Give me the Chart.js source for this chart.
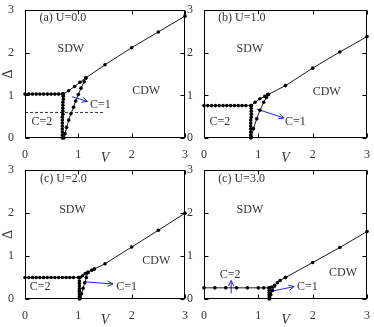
<!DOCTYPE html>
<html lang="en">
<head>
    <meta charset="UTF-8">
    <title>Phase diagrams</title>
    <style>
        body { margin: 0; background: #fff; }
        #wrap { position: relative; width: 374px; height: 327px; overflow: hidden; }
        #wrap canvas { position: absolute; }
    </style>
</head>
<body>
    <div id="wrap">
        <canvas id="pa" width="190" height="165" style="left:0;top:0"></canvas>
        <canvas id="pb" width="189" height="165" style="left:185px;top:0"></canvas>
        <canvas id="pc" width="190" height="167" style="left:0;top:160px"></canvas>
        <canvas id="pd" width="189" height="167" style="left:185px;top:160px"></canvas>
    </div>

    <script src="https://cdn.jsdelivr.net/npm/chart.js"></script>
    <script>
        // tick values for both axes
        const vTicks = [0, 1, 2, 3];
        const dTicks = [0, 1, 2, 3];

        // (a) U=0.0  -- points as [V, Delta]
        const aRow = [[0,1.03],[0.07,1.03],[0.14,1.03],[0.21,1.03],[0.28,1.03],[0.35,1.03],[0.42,1.03],[0.49,1.03],[0.56,1.03],[0.63,1.03],[0.7,1.03]];
        const aVert = [[0.7,0],[0.7,0.07],[0.7,0.14],[0.7,0.21],[0.7,0.28],[0.7,0.35],[0.7,0.42],[0.7,0.49],[0.71,0.56],[0.71,0.63],[0.71,0.7],[0.71,0.77],[0.71,0.84],[0.72,0.91],[0.72,0.98],[0.72,1.03]];
        const aUpper = [[0.72,1.03],[0.82,1.11],[0.93,1.21],[1.03,1.31],[1.14,1.41]];
        const aLower = [[0.73,0],[0.75,0.1],[0.78,0.25],[0.82,0.42],[0.86,0.57],[0.91,0.72],[0.95,0.87],[1.0,1.02],[1.05,1.17],[1.11,1.32],[1.14,1.41]];
        const aCdw = [[1.14,1.41],[1.5,1.72],[2.0,2.12],[2.5,2.49],[3.0,2.86]];
        const aDash = [[0,0.6],[1.5,0.6]];
        const aArrow = [[0.88,0.97],[1.17,0.86]];

        // (b) U=1.0
        const bRow = [[0,0.76],[0.07,0.76],[0.14,0.76],[0.21,0.76],[0.28,0.76],[0.35,0.76],[0.42,0.76],[0.49,0.76],[0.56,0.76],[0.63,0.76],[0.7,0.76],[0.77,0.76],[0.86,0.76]];
        const bVert = [[0.86,0],[0.86,0.07],[0.86,0.14],[0.86,0.21],[0.86,0.28],[0.86,0.35],[0.86,0.42],[0.87,0.49],[0.87,0.56],[0.87,0.63],[0.87,0.7],[0.87,0.76]];
        const bUpper = [[0.87,0.76],[0.94,0.84],[1.03,0.92],[1.12,0.98],[1.18,1.02]];
        const bLower = [[0.87,0.02],[0.91,0.22],[0.97,0.45],[1.03,0.65],[1.1,0.84],[1.15,0.95],[1.18,1.02]];
        const bCdw = [[1.18,1.02],[1.5,1.23],[2.0,1.64],[2.5,2.02],[3.0,2.38]];
        const bArrow = [[0.97,0.68],[1.47,0.47]];

        // (c) U=2.0
        const cRow = [[0,0.5],[0.07,0.5],[0.14,0.5],[0.21,0.5],[0.28,0.5],[0.35,0.5],[0.42,0.5],[0.49,0.5],[0.56,0.5],[0.63,0.5],[0.7,0.5],[0.77,0.5],[0.84,0.5],[0.91,0.5],[1.0,0.5]];
        const cVert = [[1.02,0],[1.02,0.06],[1.02,0.12],[1.02,0.18],[1.02,0.24],[1.02,0.3],[1.02,0.36],[1.02,0.42],[1.03,0.5]];
        const cUpper = [[1.03,0.5],[1.08,0.54],[1.13,0.59],[1.18,0.62],[1.25,0.67],[1.3,0.7]];
        const cLower = [[1.04,0.02],[1.06,0.12],[1.09,0.25],[1.12,0.38],[1.15,0.5],[1.18,0.62]];
        const cCdw = [[1.3,0.7],[1.5,0.82],[2.0,1.21],[2.5,1.6],[3.0,2.0]];
        const cArrow = [[1.12,0.4],[1.65,0.35]];

        // (d) U=3.0
        const dRow = [[0,0.26],[0.2,0.26],[0.4,0.26],[0.6,0.26],[0.8,0.26],[1.0,0.26],[1.1,0.26],[1.2,0.26]];
        const dVert = [[1.2,0],[1.2,0.05],[1.2,0.1],[1.2,0.15],[1.2,0.2],[1.2,0.26]];
        const dUpper = [[1.2,0.26],[1.25,0.28],[1.3,0.32],[1.35,0.38],[1.4,0.43],[1.5,0.5]];
        const dLower = [[1.21,0.02],[1.23,0.1],[1.26,0.2],[1.3,0.3]];
        const dCdw = [[1.5,0.5],[2.0,0.85],[2.5,1.2],[3.0,1.57]];
        const dArrowUp = [[0.5,0.13],[0.5,0.43]];
        const dArrow = [[1.21,0.17],[1.66,0.29]];

        const SERIF = '"Liberation Serif", "DejaVu Serif", serif';
        const BLUE = '#1f1fff';

        const pts = arr => arr.map(p => ({x: p[0], y: p[1]}));

        function curve(arr, r) {
            return {
                data: pts(arr), borderColor: '#000', backgroundColor: '#000',
                borderWidth: 0.9, pointRadius: r, pointHoverRadius: r, pointBorderWidth: 0,
                showLine: true, tension: 0, clip: false
            };
        }
        function arrow(arr) {
            return {
                data: pts(arr), borderColor: BLUE, borderWidth: 1, pointRadius: 0,
                showLine: true, arrow: true, clip: false
            };
        }

        // box with inward ticks on all four sides
        const framePlugin = {
            id: 'frame',
            afterDatasetsDraw(chart) {
                const {ctx, chartArea: a, scales: {x, y}} = chart;
                ctx.save();
                ctx.strokeStyle = '#000';
                ctx.lineWidth = 1;
                const L = Math.round(a.left) + 0.5, R = Math.round(a.right) - 0.5;
                const T = Math.round(a.top) + 0.5, B = Math.round(a.bottom) - 0.5;
                ctx.strokeRect(L, T, R - L, B - T);
                ctx.beginPath();
                vTicks.forEach(v => {
                    const px = Math.round(x.getPixelForValue(v)) + 0.5;
                    ctx.moveTo(px, B); ctx.lineTo(px, B - 4);
                    ctx.moveTo(px, T); ctx.lineTo(px, T + 4);
                });
                dTicks.forEach(d => {
                    const py = Math.round(y.getPixelForValue(d)) + 0.5;
                    ctx.moveTo(L, py); ctx.lineTo(L + 4, py);
                    ctx.moveTo(R, py); ctx.lineTo(R - 4, py);
                });
                ctx.stroke();

                // arrow heads
                chart.data.datasets.forEach((ds, i) => {
                    if (!ds.arrow) return;
                    const m = chart.getDatasetMeta(i).data;
                    const p0 = m[m.length - 2], p1 = m[m.length - 1];
                    const ang = Math.atan2(p1.y - p0.y, p1.x - p0.x);
                    ctx.strokeStyle = BLUE;
                    ctx.beginPath();
                    ctx.moveTo(p1.x - 6 * Math.cos(ang - 0.45), p1.y - 6 * Math.sin(ang - 0.45));
                    ctx.lineTo(p1.x, p1.y);
                    ctx.lineTo(p1.x - 6 * Math.cos(ang + 0.45), p1.y - 6 * Math.sin(ang + 0.45));
                    ctx.stroke();
                });

                // region labels
                ctx.fillStyle = '#333';
                ctx.textAlign = 'left';
                ctx.textBaseline = 'middle';
                chart.options.plugins.frame.notes.forEach(n => {
                    ctx.font = (n.size || 12) + 'px ' + SERIF;
                    ctx.fillText(n.t, x.getPixelForValue(n.v), y.getPixelForValue(n.d));
                });
                ctx.restore();
            }
        };

        function makePanel(id, p) {
            new Chart(document.getElementById(id), {
                type: 'scatter',
                data: { datasets: p.sets },
                options: {
                    responsive: false,
                    animation: false,
                    events: [],
                    layout: { padding: { top: 8, right: p.padRight, left: 0, bottom: 0 } },
                    plugins: {
                        legend: { display: false },
                        tooltip: { enabled: false },
                        frame: { notes: p.notes }
                    },
                    scales: {
                        x: {
                            type: 'linear', min: 0, max: 3,
                            afterBuildTicks: s => { s.ticks = vTicks.map(v => ({value: v})); },
                            afterFit: s => { s.height = p.xH; },
                            grid: { display: false }, border: { display: false },
                            ticks: { padding: 2, color: '#333', font: { family: SERIF, size: 12 } },
                            title: { display: true, text: 'V', color: '#333', padding: 0,
                                     font: { family: SERIF, size: 14, style: 'italic', lineHeight: 1 } }
                        },
                        y: {
                            type: 'linear', min: 0, max: 3,
                            afterBuildTicks: s => { s.ticks = dTicks.map(v => ({value: v})); },
                            afterFit: s => { s.width = p.yW; },
                            grid: { display: false }, border: { display: false },
                            ticks: { padding: 3, color: '#333', font: { family: SERIF, size: 12 } },
                            title: { display: p.yTitle, text: 'Δ', color: '#333', padding: 0,
                                     font: { family: SERIF, size: 14 } }
                        }
                    }
                },
                plugins: [framePlugin]
            });
        }

        makePanel('pa', {
            padRight: 1, xH: 27, yW: 25, yTitle: true,
            sets: [curve(aRow, 1.8), curve(aVert, 1.8), curve(aUpper, 1.8), curve(aLower, 1.8), curve(aCdw, 1.8),
                   Object.assign(curve(aDash, 0), { borderDash: [3, 2], borderWidth: 0.8 }), arrow(aArrow)],
            notes: [{t: '(a) U=0.0', v: 0.27, d: 2.82}, {t: 'SDW', v: 0.61, d: 2.1}, {t: 'CDW', v: 2.01, d: 1.1},
                    {t: 'C=1', v: 1.22, d: 0.78}, {t: 'C=2', v: 0.12, d: 0.39}]
        });
        makePanel('pb', {
            padRight: 7, xH: 27, yW: 19, yTitle: false,
            sets: [curve(bRow, 1.8), curve(bVert, 1.8), curve(bUpper, 1.8), curve(bLower, 1.8), curve(bCdw, 1.8), arrow(bArrow)],
            notes: [{t: '(b) U=1.0', v: 0.26, d: 2.82}, {t: 'SDW', v: 0.6, d: 2.1}, {t: 'CDW', v: 2.0, d: 1.09},
                    {t: 'C=1', v: 1.49, d: 0.37}, {t: 'C=2', v: 0.1, d: 0.37}]
        });
        makePanel('pc', {
            padRight: 1, xH: 28, yW: 25, yTitle: true,
            sets: [curve(cRow, 1.8), curve(cVert, 1.8), curve(cUpper, 1.8), curve(cLower, 1.8), curve(cCdw, 1.8), arrow(cArrow)],
            notes: [{t: '(c) U=2.0', v: 0.28, d: 2.81}, {t: 'SDW', v: 0.64, d: 2.08}, {t: 'CDW', v: 2.2, d: 0.9},
                    {t: 'C=1', v: 1.71, d: 0.29}, {t: 'C=2', v: 0.09, d: 0.29}]
        });
        makePanel('pd', {
            padRight: 7, xH: 28, yW: 19, yTitle: false,
            sets: [curve(dRow, 1.8), curve(dVert, 1.8), curve(dUpper, 1.8), curve(dLower, 1.8), curve(dCdw, 1.8),
                   arrow(dArrowUp), arrow(dArrow)],
            notes: [{t: '(c) U=3.0', v: 0.26, d: 2.81}, {t: 'SDW', v: 0.6, d: 2.08}, {t: 'CDW', v: 2.3, d: 0.6},
                    {t: 'C=1', v: 1.71, d: 0.29}, {t: 'C=2', v: 0.29, d: 0.57}]
        });
    </script>
</body>
</html>
